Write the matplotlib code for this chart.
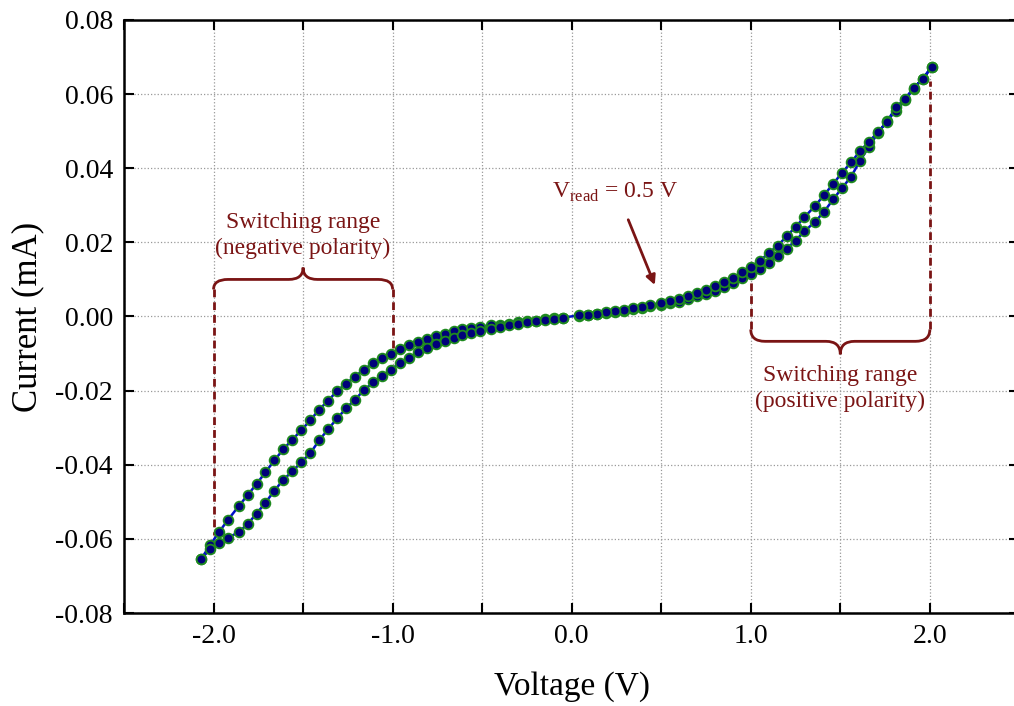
import numpy as np
import matplotlib
matplotlib.use('Agg')
import matplotlib.pyplot as plt
from matplotlib.path import Path
from matplotlib.patches import PathPatch
from matplotlib.ticker import FuncFormatter, MultipleLocator

plt.rcParams['font.family'] = ['Liberation Serif', 'DejaVu Serif']
plt.rcParams['mathtext.fontset'] = 'custom'
plt.rcParams['mathtext.rm'] = 'Liberation Serif'
plt.rcParams['axes.unicode_minus'] = False

# I-V sweep (V in volts, I in mA)
pos_v = [0.04, 0.09, 0.14, 0.19, 0.24, 0.29, 0.34, 0.39, 0.44, 0.50,
         0.55, 0.60, 0.65, 0.70, 0.75, 0.80, 0.85, 0.90, 0.95, 1.00,
         1.05, 1.10, 1.15, 1.20, 1.25, 1.30, 1.36, 1.41, 1.46, 1.51,
         1.56, 1.61, 1.66, 1.71, 1.76, 1.81, 1.86, 1.91, 1.96, 2.01]
pos_i_up = [0.0003, 0.0005, 0.0008, 0.0011, 0.0015, 0.0018, 0.0022, 0.0026, 0.0031, 0.0037,
            0.0042, 0.0048, 0.0056, 0.0064, 0.0072, 0.0081, 0.0092, 0.0105, 0.0119, 0.0134,
            0.0150, 0.0171, 0.0191, 0.0216, 0.0242, 0.0268, 0.0299, 0.0328, 0.0358, 0.0388,
            0.0416, 0.0446, 0.0472, 0.0497, 0.0525, 0.0564, 0.0587, 0.0617, 0.0641, 0.0673]
pos_i_down = [0.0002, 0.0004, 0.0007, 0.0010, 0.0013, 0.0016, 0.0019, 0.0023, 0.0027, 0.0031,
              0.0036, 0.0040, 0.0047, 0.0054, 0.0062, 0.0070, 0.0079, 0.0091, 0.0103, 0.0116,
              0.0129, 0.0145, 0.0164, 0.0183, 0.0205, 0.0230, 0.0256, 0.0283, 0.0316, 0.0347,
              0.0377, 0.0420, 0.0458, 0.0495, 0.0527, 0.0555, 0.0583, 0.0615, 0.0641, 0.0673]

neg_v = [-0.05, -0.10, -0.15, -0.20, -0.25, -0.30, -0.35, -0.40, -0.45, -0.51,
         -0.56, -0.61, -0.66, -0.71, -0.76, -0.81, -0.86, -0.91, -0.96, -1.01,
         -1.06, -1.11, -1.16, -1.21, -1.26, -1.31, -1.36, -1.41, -1.46, -1.51,
         -1.56, -1.61, -1.66, -1.71, -1.76, -1.81, -1.86, -1.92, -1.97, -2.02, -2.07]
neg_i_up = [-0.0003, -0.0005, -0.0008, -0.0011, -0.0013, -0.0016, -0.0019, -0.0022, -0.0024, -0.0027,
            -0.0030, -0.0035, -0.0040, -0.0046, -0.0053, -0.0061, -0.0069, -0.0078, -0.0088, -0.0100,
            -0.0112, -0.0126, -0.0143, -0.0162, -0.0181, -0.0201, -0.0227, -0.0251, -0.0280, -0.0307,
            -0.0332, -0.0358, -0.0388, -0.0420, -0.0452, -0.0482, -0.0512, -0.0549, -0.0582, -0.0617, -0.0655]
neg_i_down = [-0.0003, -0.0006, -0.0010, -0.0013, -0.0016, -0.0020, -0.0024, -0.0028, -0.0033, -0.0038,
              -0.0044, -0.0051, -0.0059, -0.0066, -0.0075, -0.0086, -0.0097, -0.0111, -0.0126, -0.0143,
              -0.0161, -0.0178, -0.0199, -0.0224, -0.0248, -0.0275, -0.0304, -0.0334, -0.0369, -0.0393,
              -0.0418, -0.0440, -0.0470, -0.0502, -0.0532, -0.0560, -0.0582, -0.0597, -0.0610, -0.0628, -0.0655]

maroon = '#7a1414'

# one continuous sweep: 0 -> +2 -> 0 -> -2 -> 0
volts = pos_v + pos_v[::-1] + neg_v + neg_v[::-1]
current = pos_i_down + pos_i_up[::-1] + neg_i_up + neg_i_down[::-1]

fig = plt.figure(figsize=(10.14, 7.06), dpi=100)
ax = fig.add_axes([0.1223, 0.1317, 0.883, 0.840])

ax.plot(volts, current, '-', color='#0010c8', lw=1.8, marker='o', ms=7,
        mfc='#00007a', mec='#1f8a1f', mew=1.3, zorder=3)


def brace(ax, x1, x2, y_end, y_arm, y_tip, d=0.08):
    xm = (x1 + x2) / 2
    verts = [(x1, y_end), (x1, y_arm), (x1 + d, y_arm),
             (xm - d, y_arm), (xm, y_arm), (xm, y_tip),
             (xm, y_arm), (xm + d, y_arm),
             (x2 - d, y_arm), (x2, y_arm), (x2, y_end)]
    codes = [Path.MOVETO, Path.CURVE3, Path.CURVE3,
             Path.LINETO, Path.CURVE3, Path.CURVE3,
             Path.CURVE3, Path.CURVE3,
             Path.LINETO, Path.CURVE3, Path.CURVE3]
    ax.add_patch(PathPatch(Path(verts, codes), fill=False, ec=maroon, lw=2.0, zorder=4))


# negative polarity bracket
brace(ax, -2.0, -1.0, 0.0073, 0.0100, 0.0132)
ax.plot([-2.0, -2.0], [0.0073, -0.059], '--', color=maroon, lw=2.0, dashes=(2.8, 1.8), zorder=2)
ax.plot([-1.0, -1.0], [0.0073, -0.0085], '--', color=maroon, lw=2.0, dashes=(2.8, 1.8), zorder=2)
ax.text(-1.5, 0.0218, 'Switching range\n(negative polarity)', color=maroon, fontsize=17,
        ha='center', va='center', linespacing=1.3)

# positive polarity bracket
brace(ax, 1.0, 2.0, -0.0035, -0.0067, -0.0102)
ax.plot([1.0, 1.0], [-0.0035, 0.0108], '--', color=maroon, lw=2.0, dashes=(2.8, 1.8), zorder=2)
ax.plot([2.0, 2.0], [-0.0035, 0.0635], '--', color=maroon, lw=2.0, dashes=(2.8, 1.8), zorder=2)
ax.text(1.5, -0.0195, 'Switching range\n(positive polarity)', color=maroon, fontsize=17,
        ha='center', va='center', linespacing=1.3)

# read voltage marker
ax.text(0.24, 0.0334, r'V$_{\rm read}$ = 0.5 V', color=maroon, fontsize=17,
        ha='center', va='center')
ax.annotate('', xy=(0.47, 0.0078), xytext=(0.31, 0.0268),
            arrowprops=dict(arrowstyle='-|>', color=maroon, lw=2.0, mutation_scale=14))

ax.set_xlim(-2.5, 2.5)
ax.set_ylim(-0.08, 0.08)
ax.xaxis.set_major_locator(MultipleLocator(0.5))
ax.yaxis.set_major_locator(MultipleLocator(0.02))
ax.xaxis.set_major_formatter(FuncFormatter(
    lambda v, p: '%.1f' % v if abs(v - round(v)) < 1e-6 else ''))
ax.yaxis.set_major_formatter(FuncFormatter(lambda v, p: '%.2f' % v))
ax.tick_params(direction='in', length=7, width=1.5, top=True, right=True,
               labelsize=20, pad=8)
for s in ax.spines.values():
    s.set_linewidth(1.8)
ax.grid(True, linestyle=':', color='#999999', lw=0.9)

ax.set_xlabel('Voltage (V)', fontsize=24, labelpad=16)
ax.set_ylabel('Current (mA)', fontsize=25, labelpad=8)

fig.savefig('out.png', dpi=100)
